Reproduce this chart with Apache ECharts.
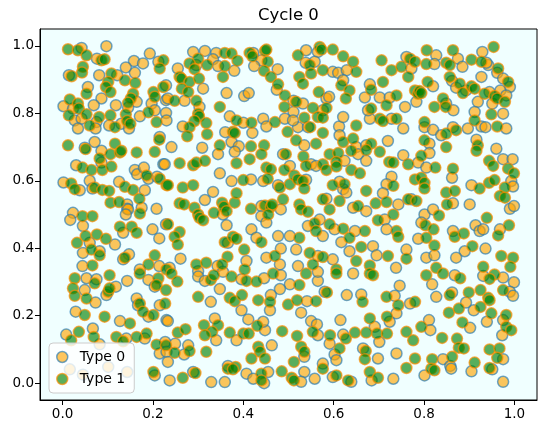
<!DOCTYPE html>
<html>
	<head>
		<meta charset="utf-8">
		<title>Cycle 0</title>
		<script src="https://cdn.jsdelivr.net/npm/echarts@6/dist/echarts.min.js"></script>
		<style>
			html, body {
				margin: 0;
				padding: 0;
				background: #ffffff;
			}
			#main {
				width: 547px;
				height: 434px;
			}
		</style>
	</head>
	<body>
		<div id="main"></div>
	</body>
	<script>
		// names shown in the legend
		var typeNames = ["Type 0", "Type 1"];
		var tickValues = [0, 0.2, 0.4, 0.6, 0.8, 1.0];

		// Type 0 points (orange, blue edge)
		var type0 = [
			[0.042,0.994],[0.097,0.999],[0.076,0.962],[0.193,0.977],[0.158,0.955],[0.178,0.948],[0.212,0.953],[0.140,0.936],
			[0.160,0.920],[0.014,0.913],[0.081,0.913],[0.121,0.913],[0.056,0.878],[0.086,0.844],[0.229,0.883],[0.229,0.839],
			[0.197,0.829],[0.002,0.821],[0.023,0.814],[0.069,0.824],[0.118,0.824],[0.164,0.834],[0.145,0.817],[0.204,0.809],
			[0.229,0.801],[0.027,0.779],[0.042,0.784],[0.075,0.774],[0.103,0.764],[0.130,0.769],[0.171,0.791],[0.230,0.779],
			[0.034,0.755],[0.073,0.755],[0.147,0.755],[0.215,0.730],[0.049,0.698],[0.071,0.715],
			[0.289,0.982],[0.315,0.985],[0.340,0.979],[0.333,0.960],[0.344,0.940],[0.380,0.926],[0.422,0.979],[0.440,0.957],
			[0.424,0.940],[0.476,0.931],[0.255,0.933],[0.311,0.873],[0.363,0.860],[0.402,0.851],[0.412,0.860],[0.474,0.870],
			[0.511,0.837],[0.511,0.804],[0.270,0.837],[0.233,0.844],[0.303,0.819],[0.370,0.791],[0.400,0.772],[0.444,0.784],
			[0.451,0.761],[0.492,0.784],[0.266,0.761],[0.360,0.744],[0.420,0.742],[0.374,0.715],[0.390,0.702],[0.241,0.700],
			[0.309,0.698],[0.296,0.943],
			[0.539,0.987],[0.565,0.982],[0.538,0.950],[0.558,0.953],[0.598,0.923],[0.610,0.920],[0.629,0.928],[0.621,0.898],
			[0.680,0.886],[0.669,0.847],[0.702,0.847],[0.724,0.847],[0.761,0.967],[0.772,0.933],[0.758,0.819],[0.783,0.834],
			[0.532,0.829],[0.584,0.844],[0.590,0.849],[0.576,0.809],[0.521,0.759],[0.543,0.759],[0.612,0.761],[0.613,0.735],
			[0.621,0.789],[0.680,0.784],[0.728,0.784],[0.676,0.809],[0.754,0.755],[0.650,0.700],[0.672,0.705],[0.720,0.718],
			[0.510,0.779],[0.535,0.705],
			[0.827,0.972],[0.875,0.962],[0.929,0.982],[0.942,0.943],[0.938,0.950],[0.823,0.946],[0.885,0.938],[0.962,0.920],
			[0.975,0.903],[0.990,0.878],[0.862,0.896],[0.871,0.876],[0.927,0.908],[0.893,0.868],[0.919,0.834],[0.820,0.880],
			[0.849,0.829],[0.865,0.809],[0.945,0.863],[0.969,0.868],[0.982,0.853],[0.951,0.829],[0.975,0.799],[0.912,0.804],
			[0.927,0.761],[0.936,0.759],[0.982,0.755],[0.801,0.759],[0.820,0.751],[0.838,0.735],[0.864,0.759],[0.897,0.755],
			[0.812,0.710],[0.916,0.722],[0.960,0.695],
			[0.223,0.649],[0.030,0.646],[0.086,0.654],[0.160,0.632],[0.165,0.619],[0.180,0.639],[0.190,0.606],[0.209,0.612],
			[0.002,0.595],[0.038,0.572],[0.060,0.600],[0.066,0.577],[0.125,0.597],[0.182,0.572],[0.143,0.530],[0.143,0.517],
			[0.145,0.515],[0.175,0.520],[0.208,0.517],[0.023,0.505],[0.017,0.484],[0.045,0.466],[0.140,0.500],[0.134,0.446],
			[0.199,0.456],[0.214,0.429],[0.229,0.471],[0.060,0.416],[0.045,0.386],[0.082,0.391],[0.116,0.411],[0.147,0.382],
			[0.134,0.367],[0.171,0.337],[0.214,0.347],[0.044,0.347],[0.086,0.689],
			[0.344,0.679],[0.381,0.686],[0.488,0.679],[0.503,0.644],[0.348,0.622],[0.374,0.599],[0.417,0.604],[0.444,0.599],
			[0.477,0.587],[0.333,0.567],[0.315,0.543],[0.355,0.500],[0.440,0.525],[0.483,0.515],[0.440,0.495],[0.451,0.476],
			[0.363,0.468],[0.418,0.456],[0.429,0.431],[0.477,0.436],[0.483,0.399],[0.451,0.372],[0.366,0.416],[0.407,0.362],
			[0.343,0.347],[0.261,0.369],[0.237,0.342],[0.481,0.352],[0.503,0.436],[0.300,0.332],[0.226,0.649],
			[0.550,0.649],[0.561,0.644],[0.624,0.659],[0.654,0.679],[0.672,0.659],[0.754,0.676],[0.787,0.654],[0.539,0.603],
			[0.621,0.575],[0.613,0.597],[0.628,0.565],[0.728,0.612],[0.717,0.590],[0.709,0.563],[0.743,0.530],[0.772,0.545],
			[0.584,0.547],[0.643,0.520],[0.672,0.510],[0.713,0.485],[0.543,0.466],[0.569,0.485],[0.576,0.436],[0.602,0.456],
			[0.647,0.451],[0.717,0.456],[0.517,0.396],[0.565,0.377],[0.598,0.367],[0.617,0.418],[0.635,0.391],[0.687,0.406],
			[0.695,0.379],[0.761,0.396],[0.738,0.342],[0.521,0.347],[0.787,0.428],
			[0.812,0.682],[0.975,0.664],[0.996,0.664],[0.862,0.609],[0.805,0.639],[0.905,0.587],[0.993,0.599],[0.997,0.583],
			[0.990,0.517],[0.999,0.525],[0.864,0.533],[0.901,0.530],[0.801,0.500],[0.820,0.515],[0.794,0.476],[0.864,0.451],
			[0.914,0.468],[0.923,0.451],[0.931,0.456],[0.968,0.456],[0.936,0.399],[0.890,0.391],[0.871,0.372],[0.805,0.372],
			[0.823,0.379],
			[0.053,0.311],[0.075,0.308],[0.118,0.286],[0.143,0.303],[0.190,0.306],[0.204,0.286],[0.049,0.276],[0.073,0.239],
			[0.097,0.261],[0.164,0.251],[0.167,0.231],[0.215,0.231],[0.230,0.187],[0.190,0.197],[0.029,0.212],[0.127,0.184],
			[0.182,0.132],[0.227,0.122],[0.141,0.132],[0.008,0.144],[0.067,0.162],[0.082,0.115],[0.215,0.088],[0.230,0.093],
			[0.204,0.023],[0.016,0.041],[0.045,0.025],[0.101,0.048],[0.143,0.033],
			[0.300,0.316],[0.315,0.303],[0.355,0.330],[0.348,0.279],[0.396,0.308],[0.446,0.311],[0.483,0.320],[0.503,0.293],
			[0.481,0.279],[0.328,0.241],[0.461,0.261],[0.459,0.216],[0.396,0.216],[0.233,0.184],[0.411,0.189],[0.337,0.192],
			[0.340,0.127],[0.385,0.127],[0.448,0.157],[0.444,0.182],[0.249,0.117],[0.278,0.112],[0.269,0.085],[0.463,0.112],
			[0.233,0.063],[0.366,0.051],[0.407,0.028],[0.422,0.013],[0.455,0.033],[0.446,0.000],[0.237,0.008],[0.289,0.033],
			[0.329,0.003],[0.359,0.003],
			[0.565,0.303],[0.643,0.325],[0.746,0.289],[0.580,0.271],[0.629,0.261],[0.661,0.263],[0.735,0.259],[0.769,0.236],
			[0.541,0.243],[0.528,0.209],[0.550,0.184],[0.563,0.174],[0.565,0.142],[0.615,0.187],[0.739,0.207],[0.724,0.182],
			[0.691,0.167],[0.701,0.122],[0.621,0.144],[0.591,0.117],[0.602,0.085],[0.535,0.078],[0.665,0.103],[0.698,0.073],
			[0.739,0.088],[0.535,0.033],[0.558,0.013],[0.528,0.004],[0.576,0.058],[0.606,0.068],[0.598,0.018],[0.639,0.004],
			[0.684,0.008],[0.732,0.013],[0.565,0.330],
			[0.818,0.293],[0.868,0.320],[0.931,0.318],[0.975,0.313],[0.999,0.299],[0.827,0.256],[0.862,0.269],[0.893,0.239],
			[0.990,0.271],[0.997,0.259],[0.910,0.216],[0.939,0.182],[0.975,0.187],[0.973,0.142],[0.902,0.164],[0.811,0.187],
			[0.814,0.157],[0.905,0.035],[0.975,0.071],[0.951,0.041],[0.975,0.004],[0.842,0.071],[0.858,0.051],[0.860,0.043],
			[0.801,0.023]
		];

		// Type 1 points (green, orange edge)
		var type1 = [
			[0.012,0.990],[0.034,0.987],[0.053,0.972],[0.086,0.957],[0.093,0.960],[0.223,0.957],[0.215,0.933],[0.045,0.938],
			[0.043,0.921],[0.020,0.910],[0.108,0.918],[0.101,0.893],[0.096,0.878],[0.106,0.863],[0.138,0.898],[0.161,0.890],
			[0.053,0.858],[0.201,0.863],[0.204,0.849],[0.223,0.878],[0.156,0.858],[0.151,0.844],[0.145,0.831],[0.016,0.841],
			[0.034,0.829],[0.036,0.814],[0.190,0.803],[0.014,0.794],[0.053,0.797],[0.081,0.789],[0.106,0.794],[0.116,0.759],
			[0.140,0.797],[0.143,0.777],[0.150,0.769],[0.208,0.774],[0.060,0.764],[0.214,0.722],[0.012,0.705],[0.116,0.710],
			[0.300,0.962],[0.281,0.948],[0.359,0.979],[0.374,0.977],[0.320,0.943],[0.359,0.940],[0.387,0.956],[0.414,0.979],
			[0.420,0.969],[0.448,0.985],[0.451,0.989],[0.454,0.953],[0.446,0.926],[0.461,0.908],[0.259,0.908],[0.263,0.903],
			[0.281,0.893],[0.292,0.931],[0.302,0.903],[0.264,0.873],[0.278,0.863],[0.355,0.908],[0.477,0.886],[0.492,0.853],
			[0.491,0.819],[0.248,0.837],[0.296,0.837],[0.300,0.799],[0.302,0.791],[0.292,0.777],[0.318,0.771],[0.348,0.819],
			[0.385,0.779],[0.418,0.772],[0.470,0.774],[0.498,0.745],[0.281,0.759],[0.276,0.732],[0.377,0.745],[0.381,0.742],
			[0.320,0.738],[0.417,0.702],[0.446,0.705],[0.348,0.705],
			[0.521,0.972],[0.569,0.997],[0.573,0.989],[0.598,0.989],[0.621,0.969],[0.547,0.943],[0.576,0.928],[0.550,0.918],
			[0.650,0.923],[0.643,0.953],[0.524,0.908],[0.532,0.888],[0.617,0.883],[0.635,0.868],[0.683,0.870],[0.709,0.893],
			[0.706,0.957],[0.728,0.928],[0.750,0.938],[0.765,0.908],[0.769,0.962],[0.780,0.953],[0.780,0.868],[0.787,0.858],
			[0.739,0.853],[0.567,0.863],[0.517,0.834],[0.554,0.816],[0.584,0.816],[0.627,0.844],[0.535,0.787],[0.548,0.759],
			[0.565,0.789],[0.576,0.787],[0.576,0.742],[0.683,0.814],[0.702,0.784],[0.709,0.777],[0.739,0.784],[0.717,0.824],
			[0.650,0.764],[0.621,0.715],[0.643,0.725],[0.683,0.710],[0.517,0.720],[0.561,0.710],
			[0.806,0.987],[0.864,0.987],[0.905,0.959],[0.954,0.997],[0.927,0.953],[0.805,0.946],[0.849,0.950],[0.857,0.943],
			[0.964,0.933],[0.986,0.893],[0.857,0.908],[0.879,0.888],[0.905,0.880],[0.912,0.873],[0.886,0.860],[0.934,0.858],
			[0.808,0.893],[0.790,0.866],[0.794,0.860],[0.842,0.844],[0.823,0.819],[0.848,0.819],[0.956,0.851],[0.962,0.844],
			[0.979,0.834],[0.949,0.797],[0.912,0.779],[0.962,0.761],[0.801,0.774],[0.849,0.740],[0.871,0.750],[0.849,0.700],
			[0.919,0.705],[0.801,0.720],
			[0.051,0.694],[0.082,0.666],[0.106,0.679],[0.127,0.684],[0.130,0.689],[0.164,0.684],[0.204,0.686],[0.044,0.639],
			[0.064,0.632],[0.088,0.632],[0.108,0.642],[0.186,0.616],[0.215,0.606],[0.230,0.587],[0.019,0.592],[0.027,0.575],
			[0.071,0.580],[0.088,0.573],[0.103,0.570],[0.138,0.582],[0.156,0.573],[0.170,0.547],[0.106,0.535],[0.125,0.537],
			[0.171,0.503],[0.044,0.495],[0.066,0.495],[0.127,0.464],[0.153,0.464],[0.164,0.446],[0.051,0.436],[0.076,0.441],
			[0.096,0.428],[0.032,0.416],[0.064,0.396],[0.082,0.379],[0.138,0.372],[0.204,0.379],[0.190,0.352],[0.230,0.337],
			[0.066,0.349],
			[0.259,0.652],[0.289,0.646],[0.296,0.654],[0.315,0.659],[0.385,0.652],[0.414,0.664],[0.440,0.679],[0.494,0.679],
			[0.451,0.639],[0.461,0.634],[0.491,0.632],[0.400,0.602],[0.454,0.606],[0.481,0.580],[0.503,0.590],[0.233,0.587],
			[0.266,0.580],[0.289,0.587],[0.259,0.533],[0.269,0.530],[0.292,0.520],[0.300,0.500],[0.303,0.490],[0.311,0.483],
			[0.335,0.505],[0.353,0.535],[0.357,0.523],[0.363,0.510],[0.381,0.535],[0.385,0.563],[0.417,0.517],[0.448,0.527],
			[0.461,0.523],[0.464,0.530],[0.455,0.500],[0.488,0.545],[0.259,0.448],[0.248,0.434],[0.255,0.411],[0.233,0.471],
			[0.359,0.418],[0.377,0.434],[0.385,0.428],[0.440,0.418],[0.470,0.377],[0.402,0.396],[0.365,0.375],[0.353,0.352],
			[0.296,0.352],[0.318,0.357],[0.403,0.337],
			[0.533,0.672],[0.539,0.644],[0.576,0.649],[0.584,0.632],[0.591,0.679],[0.610,0.682],[0.606,0.656],[0.606,0.642],
			[0.639,0.689],[0.672,0.691],[0.639,0.632],[0.658,0.622],[0.702,0.686],[0.723,0.656],[0.732,0.654],[0.765,0.649],
			[0.513,0.616],[0.521,0.604],[0.532,0.599],[0.535,0.577],[0.598,0.587],[0.624,0.590],[0.672,0.570],[0.732,0.585],
			[0.780,0.604],[0.693,0.533],[0.717,0.537],[0.732,0.500],[0.765,0.545],[0.783,0.540],[0.524,0.530],[0.528,0.515],
			[0.543,0.508],[0.576,0.545],[0.591,0.515],[0.613,0.540],[0.654,0.525],[0.698,0.483],[0.558,0.474],[0.561,0.451],
			[0.591,0.471],[0.621,0.458],[0.669,0.451],[0.739,0.451],[0.743,0.434],[0.524,0.431],[0.547,0.386],[0.576,0.374],
			[0.635,0.431],[0.661,0.404],[0.720,0.377],[0.761,0.369],[0.650,0.362],[0.680,0.349],[0.554,0.352],[0.606,0.337],
			[0.794,0.674],[0.916,0.689],[0.944,0.659],[0.953,0.644],[0.986,0.636],[0.999,0.622],[0.864,0.636],[0.825,0.639],
			[0.794,0.609],[0.801,0.594],[0.801,0.577],[0.923,0.577],[0.944,0.594],[0.956,0.602],[0.979,0.580],[0.968,0.555],
			[0.979,0.550],[0.849,0.565],[0.868,0.570],[0.851,0.530],[0.833,0.497],[0.803,0.468],[0.821,0.456],[0.805,0.431],
			[0.823,0.408],[0.868,0.434],[0.888,0.444],[0.939,0.490],[0.964,0.438],[0.988,0.468],[0.907,0.406],[0.971,0.377],
			[0.997,0.372],[0.931,0.345],[0.991,0.345],[0.827,0.342],
			[0.027,0.311],[0.071,0.296],[0.104,0.320],[0.171,0.325],[0.212,0.311],[0.208,0.291],[0.023,0.281],[0.027,0.259],
			[0.053,0.251],[0.101,0.271],[0.104,0.281],[0.171,0.236],[0.178,0.212],[0.201,0.202],[0.227,0.236],[0.049,0.202],
			[0.093,0.197],[0.149,0.177],[0.186,0.147],[0.208,0.114],[0.119,0.137],[0.164,0.137],[0.019,0.127],[0.036,0.152],
			[0.069,0.137],[0.134,0.124],[0.201,0.033],
			[0.241,0.325],[0.254,0.301],[0.328,0.306],[0.335,0.320],[0.374,0.316],[0.407,0.303],[0.429,0.301],[0.466,0.325],
			[0.229,0.276],[0.300,0.256],[0.370,0.253],[0.381,0.243],[0.397,0.261],[0.433,0.246],[0.459,0.241],[0.499,0.233],
			[0.344,0.172],[0.313,0.172],[0.331,0.152],[0.315,0.142],[0.255,0.150],[0.272,0.160],[0.370,0.150],[0.400,0.147],
			[0.412,0.147],[0.431,0.170],[0.486,0.154],[0.229,0.112],[0.281,0.095],[0.248,0.090],[0.318,0.093],[0.433,0.108],
			[0.437,0.093],[0.418,0.073],[0.448,0.073],[0.366,0.043],[0.383,0.048],[0.377,0.041],[0.440,0.028],[0.440,0.008],
			[0.485,0.035],[0.507,0.016],[0.266,0.016],[0.294,0.030],
			[0.539,0.325],[0.606,0.325],[0.680,0.325],[0.687,0.320],[0.524,0.291],[0.585,0.269],[0.664,0.241],[0.717,0.256],
			[0.743,0.231],[0.780,0.241],[0.519,0.246],[0.561,0.243],[0.554,0.152],[0.680,0.192],[0.718,0.197],[0.696,0.147],
			[0.718,0.147],[0.672,0.150],[0.647,0.150],[0.627,0.132],[0.592,0.142],[0.613,0.103],[0.519,0.140],[0.528,0.108],
			[0.535,0.093],[0.512,0.063],[0.671,0.095],[0.669,0.071],[0.761,0.152],[0.776,0.127],[0.780,0.073],[0.761,0.045],
			[0.512,0.008],[0.576,0.043],[0.606,0.023],[0.632,0.008],[0.680,0.033],[0.698,0.016],
			[0.805,0.320],[0.842,0.325],[0.880,0.311],[0.956,0.322],[0.945,0.309],[0.857,0.261],[0.899,0.269],[0.925,0.276],
			[0.942,0.253],[0.945,0.246],[0.975,0.276],[0.855,0.209],[0.877,0.221],[0.925,0.226],[0.949,0.207],[0.982,0.202],
			[0.982,0.167],[0.993,0.157],[0.885,0.180],[0.794,0.167],[0.840,0.134],[0.873,0.132],[0.877,0.105],[0.888,0.103],
			[0.912,0.061],[0.945,0.100],[0.967,0.103],[0.962,0.075],[0.945,0.045],[0.818,0.071],[0.816,0.043],[0.823,0.038],
			[0.862,0.078]
		];

		var style0 = { color: "rgba(255,165,0,0.8)", borderColor: "rgba(31,119,180,0.8)", borderWidth: 1.5 };
		var style1 = { color: "rgba(0,128,0,0.8)", borderColor: "rgba(255,140,0,0.85)", borderWidth: 1.5 };

		var font = "DejaVu Sans";

		function tickText(v) {
			return (Math.round(v * 10) / 10).toFixed(1);
		}

		function axis(type) {
			return {
				type: "value",
				min: -0.05,
				max: 1.05,
				splitLine: { show: false },
				axisLine: { show: true, onZero: false, lineStyle: { color: "#000", width: 1 } },
				axisTick: {
					show: true,
					length: 5,
					customValues: tickValues,
					lineStyle: { color: "#000", width: 1 }
				},
				axisLabel: {
					customValues: tickValues,
					formatter: tickText,
					color: "#000",
					fontFamily: font,
					fontSize: 13.5,
					margin: type === "x" ? 7 : 6
				}
			};
		}

		var option = {
			animation: false,
			backgroundColor: "#ffffff",
			title: {
				text: "Cycle 0",
				left: 258,
				top: 7,
				padding: 0,
				textStyle: { fontFamily: font, fontSize: 16.5, fontWeight: "normal", color: "#000" }
			},
			grid: {
				left: 40,
				right: 10,
				top: 29,
				bottom: 34,
				show: true,
				backgroundColor: "#f0ffff",
				borderColor: "#000",
				borderWidth: 1
			},
			legend: {
				orient: "vertical",
				left: 49,
				top: 343,
				padding: [7, 9, 7, 7],
				itemGap: 8,
				itemWidth: 25,
				itemHeight: 11,
				backgroundColor: "rgba(255,255,255,0.8)",
				borderColor: "#cccccc",
				borderWidth: 1,
				borderRadius: 4,
				textStyle: { fontFamily: font, fontSize: 14, color: "#000" },
				data: [
					{ name: typeNames[0], icon: "circle", itemStyle: style0 },
					{ name: typeNames[1], icon: "circle", itemStyle: style1 }
				]
			},
			xAxis: axis("x"),
			yAxis: axis("y"),
			series: [
				{
					name: typeNames[0],
					type: "scatter",
					symbolSize: 11,
					data: type0,
					itemStyle: style0,
					emphasis: { disabled: true }
				},
				{
					name: typeNames[1],
					type: "scatter",
					symbolSize: 11,
					data: type1,
					itemStyle: style1,
					emphasis: { disabled: true }
				}
			]
		};

		var chart = echarts.init(document.getElementById("main"));
		chart.setOption(option);
	</script>
</html>
